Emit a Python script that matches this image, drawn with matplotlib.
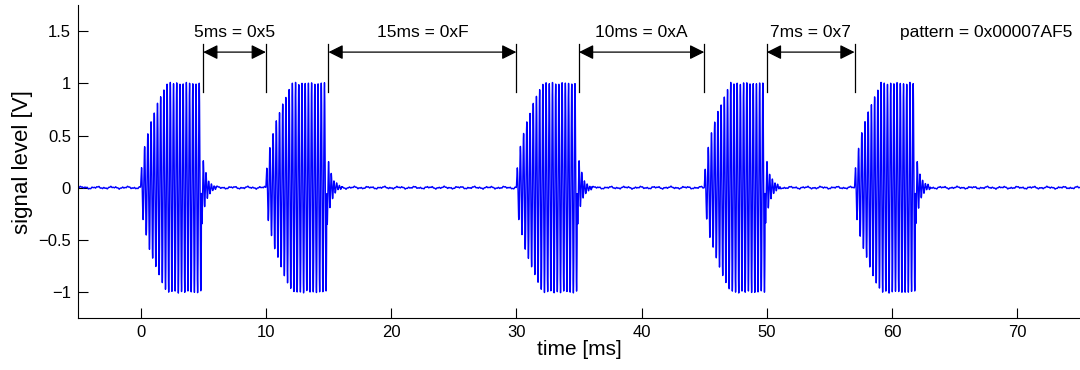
import numpy as np
import matplotlib.pyplot as plt

plt.rcParams['font.family'] = ['Liberation Sans', 'DejaVu Sans']

# burst start times [ms] and gaps between them
burst_starts = [0, 10, 30, 45, 57]
gap_from = [5, 15, 35, 50]
gap_to = [10, 30, 45, 57]
gap_labels = ['5ms = 0x5', '15ms = 0xF', '10ms = 0xA', '7ms = 0x7']
pattern_text = 'pattern = 0x00007AF5'

burst_len = 4.85     # ms
rise_time = 2.1      # ms
carrier = 3.9        # kHz (cycles per ms)
ring_amp = 0.4
ring_tau = 0.35      # ms
hum_amp = [0.006, 0.005, 0.004]
hum_freq = [0.83, 2.1, 5.3]

# signal
t = np.arange(-5, 75, 0.005)
y = np.zeros_like(t)
for a, f in zip(hum_amp, hum_freq):
    y += a * np.sin(2 * np.pi * f * t + f)
for t0 in burst_starts:
    tt = t - t0
    on = (tt >= 0) & (tt < burst_len)
    env = np.minimum(1, np.sqrt(np.clip(tt, 0, None) / rise_time))
    y[on] += env[on] * np.sin(2 * np.pi * carrier * tt[on])
    ring = (tt >= burst_len) & (tt < burst_len + 1.2)
    y[ring] += ring_amp * np.exp(-(tt[ring] - burst_len) / ring_tau) * \
        np.sin(2 * np.pi * carrier * 1.2 * (tt[ring] - burst_len) + np.pi)

fig = plt.figure(figsize=(10.8, 3.7), dpi=100)
ax = fig.add_axes([0.0722, 0.1405, 0.9278, 0.8455])
ax.plot(t, y, color='#0000ff', linewidth=1.0)

# gap markers
for a, b, lab in zip(gap_from, gap_to, gap_labels):
    ax.plot([a, a], [0.92, 1.38], color='k', linewidth=0.9)
    ax.plot([b, b], [0.92, 1.38], color='k', linewidth=0.9)
    ax.annotate('', xy=(b, 1.3), xytext=(a, 1.3),
                arrowprops=dict(arrowstyle='<|-|>', color='k', lw=0.9,
                                mutation_scale=22, shrinkA=0, shrinkB=0))
    ax.text((a + b) / 2, 1.49, lab, ha='center', va='center', fontsize=12.5)
ax.text(74.4, 1.49, pattern_text, ha='right', va='center', fontsize=12.5)

ax.set_xlim(-5, 75)
ax.set_ylim(-1.25, 1.75)
ax.set_xticks([0, 10, 20, 30, 40, 50, 60, 70])
ax.set_yticks([-1, -0.5, 0, 0.5, 1, 1.5])
ax.set_yticklabels(['\u22121', '\u22120.5', '0', '0.5', '1', '1.5'])
ax.tick_params(direction='in', length=7, labelsize=12, width=0.8, pad=5)
ax.spines['top'].set_visible(False)
ax.spines['right'].set_visible(False)
ax.set_xlabel('time [ms]', fontsize=15, labelpad=0)
ax.set_ylabel('signal level [V]', fontsize=16, labelpad=4)

fig.savefig('out.png', dpi=100)
